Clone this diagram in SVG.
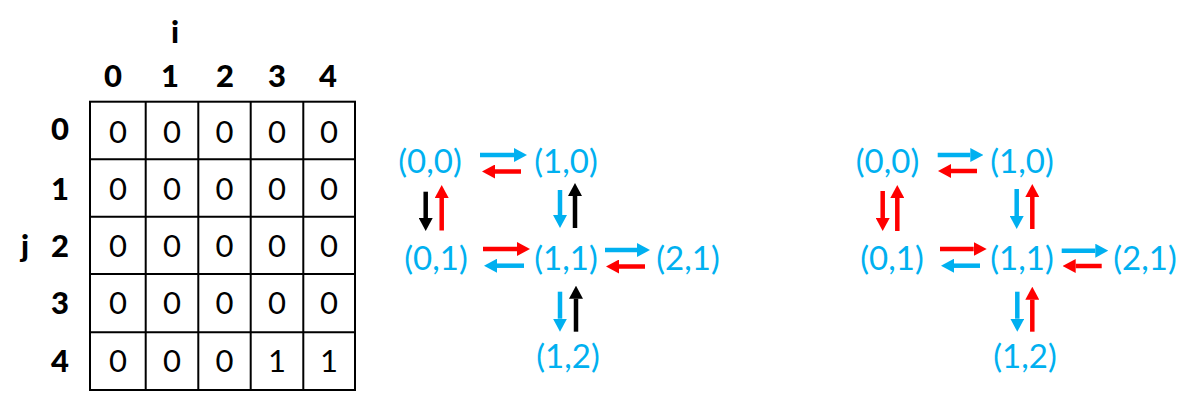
<svg xmlns="http://www.w3.org/2000/svg" width="1202" height="408" viewBox="0 0 1202 408">
<style>
.cell{fill:#fff;stroke:#000;stroke-width:2}
.v{font-family:Lato,"Liberation Sans",sans-serif;font-size:31px;fill:#000;text-anchor:middle}
.h{font-family:Lato,"Liberation Sans",sans-serif;font-size:31px;font-weight:900;fill:#000;text-anchor:middle}
.n{font-family:Lato,"Liberation Sans",sans-serif;font-size:33px;fill:#00B0F0;text-anchor:middle}
.b{stroke:#00B0F0;stroke-width:4.5;fill:none;marker-end:url(#mb)}
.r{stroke:#FF0000;stroke-width:4.5;fill:none;marker-end:url(#mr)}
.k{stroke:#000;stroke-width:4.5;fill:none;marker-end:url(#mk)}
</style>
<defs>
<marker id="mb" markerUnits="userSpaceOnUse" markerWidth="13" markerHeight="14" viewBox="0 0 13 14" refX="0" refY="7" orient="auto"><path d="M0,0L13,7L0,14z" fill="#00B0F0"/></marker>
<marker id="mr" markerUnits="userSpaceOnUse" markerWidth="13" markerHeight="14" viewBox="0 0 13 14" refX="0" refY="7" orient="auto"><path d="M0,0L13,7L0,14z" fill="#FF0000"/></marker>
<marker id="mk" markerUnits="userSpaceOnUse" markerWidth="13" markerHeight="14" viewBox="0 0 13 14" refX="0" refY="7" orient="auto"><path d="M0,0L13,7L0,14z" fill="#000"/></marker>
</defs>
<rect width="1202" height="408" fill="#fff"/>
<g id="grid">
<rect class="cell" x="90" y="101.7" width="265" height="288.3"/>
<path d="M145.7,101.7V390M198.3,101.7V390M250.7,101.7V390M303.3,101.7V390M90,159.3H355M90,216.7H355M90,274H355M90,332.3H355" stroke="#000" stroke-width="2"/>
<g class="v">
<text x="118" y="143">0</text><text x="172" y="143">0</text><text x="224.5" y="143">0</text><text x="277" y="143">0</text><text x="329" y="143">0</text>
<text x="118" y="200">0</text><text x="172" y="200">0</text><text x="224.5" y="200">0</text><text x="277" y="200">0</text><text x="329" y="200">0</text>
<text x="118" y="257">0</text><text x="172" y="257">0</text><text x="224.5" y="257">0</text><text x="277" y="257">0</text><text x="329" y="257">0</text>
<text x="118" y="314">0</text><text x="172" y="314">0</text><text x="224.5" y="314">0</text><text x="277" y="314">0</text><text x="329" y="314">0</text>
<text x="118" y="372">0</text><text x="172" y="372">0</text><text x="224.5" y="372">0</text><text x="277" y="372">1</text><text x="329" y="372">1</text>
</g>
<g class="h">
<text x="175" y="43">i</text>
<text x="113" y="87">0</text><text x="170" y="87">1</text><text x="225" y="87">2</text><text x="277" y="87">3</text><text x="328" y="87">4</text>
<text x="60" y="140">0</text><text x="60" y="200">1</text><text x="60" y="257">2</text><text x="60" y="314">3</text><text x="60" y="372">4</text>
<text x="25" y="257">j</text>
</g>
</g>
<g id="m00"><text class="n" x="430" y="173">(0,0)</text></g>
<g id="m10"><text class="n" x="566" y="173">(1,0)</text></g>
<g id="m01"><text class="n" x="436" y="270">(0,1)</text></g>
<g id="m11"><text class="n" x="566" y="270">(1,1)</text></g>
<g id="m21"><text class="n" x="688" y="270">(2,1)</text></g>
<g id="m12"><text class="n" x="568" y="368">(1,2)</text></g>
<g id="r00"><text class="n" x="887.5" y="173">(0,0)</text></g>
<g id="r10"><text class="n" x="1022" y="173">(1,0)</text></g>
<g id="r01"><text class="n" x="892" y="270">(0,1)</text></g>
<g id="r11"><text class="n" x="1022" y="270">(1,1)</text></g>
<g id="r21"><text class="n" x="1145" y="270">(2,1)</text></g>
<g id="r12"><text class="n" x="1025" y="368">(1,2)</text></g>
<g id="connectors">
<line class="b" x1="480" y1="155" x2="514" y2="155"/>
<line class="r" x1="521" y1="171.5" x2="495" y2="171.5"/>
<line class="k" x1="425.7" y1="191.7" x2="425.7" y2="218"/>
<line class="r" x1="441.7" y1="230.5" x2="441.7" y2="198"/>
<line class="b" x1="560" y1="190" x2="560" y2="215"/>
<line class="k" x1="575" y1="228" x2="575" y2="196"/>
<line class="r" x1="483" y1="249" x2="517" y2="249"/>
<line class="b" x1="524" y1="265.7" x2="497" y2="265.7"/>
<line class="b" x1="605" y1="250" x2="637" y2="250"/>
<line class="r" x1="645" y1="266.5" x2="619" y2="266.5"/>
<line class="b" x1="560" y1="291.7" x2="560" y2="318.7"/>
<line class="k" x1="576" y1="331.7" x2="576" y2="298.7"/>
<line class="b" x1="937.7" y1="155" x2="970.3" y2="155"/>
<line class="r" x1="977" y1="171" x2="951" y2="171"/>
<line class="r" x1="882.7" y1="191" x2="882.7" y2="218"/>
<line class="r" x1="897.3" y1="231" x2="897.3" y2="198"/>
<line class="b" x1="1016.7" y1="189" x2="1016.7" y2="216"/>
<line class="r" x1="1032.3" y1="229" x2="1032.3" y2="197"/>
<line class="r" x1="940" y1="249" x2="973.7" y2="249"/>
<line class="b" x1="980" y1="265.7" x2="954" y2="265.7"/>
<line class="b" x1="1061.7" y1="250.7" x2="1095.3" y2="250.7"/>
<line class="r" x1="1101.7" y1="266" x2="1075.7" y2="266"/>
<line class="b" x1="1017.3" y1="291.7" x2="1017.3" y2="318.7"/>
<line class="r" x1="1032.3" y1="331.7" x2="1032.3" y2="299.7"/>
</g>
</svg>
